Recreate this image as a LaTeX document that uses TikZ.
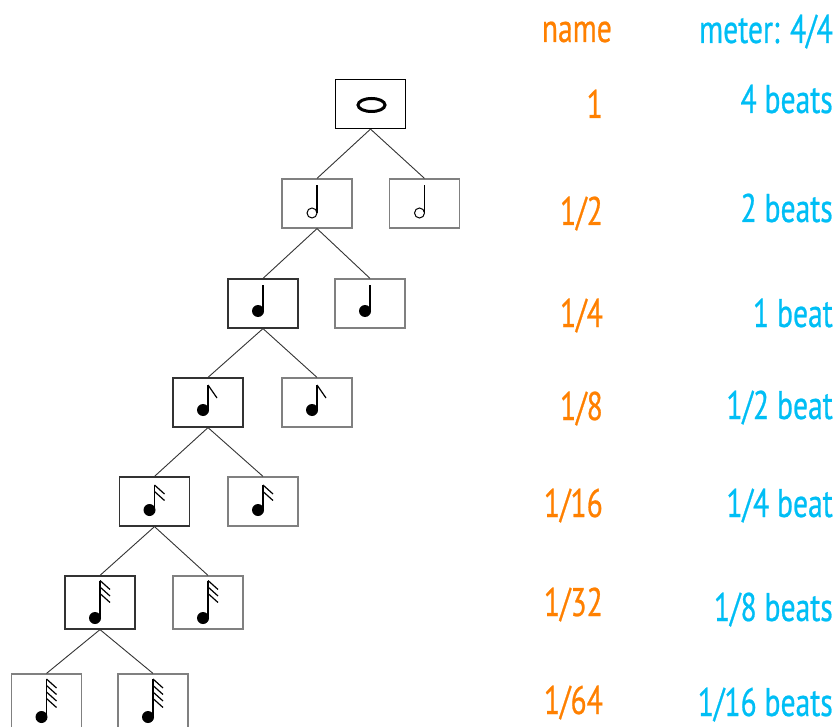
\documentclass[tikz,border=0pt]{standalone}
\usepackage{fontspec}
\setmainfont{PT Sans}[FakeStretch=0.74, FakeBold=0.6]
\usepackage{tikz}
\usetikzlibrary{positioning}
\definecolor{namecol}{RGB}{255,128,0}
\definecolor{beatcol}{RGB}{0,190,245}
\tikzset{
  notebox/.style={draw=black!80, line width=1.2pt, minimum width=70pt, minimum height=49pt, inner sep=0pt},
  faintbox/.style={notebox, draw=black!50},
  branch/.style={draw=black!80, line width=0.9pt},
  stem/.style={line width=1.5pt},
  flag/.style={line width=1.2pt},
  namelabel/.style={text=namecol, anchor=base east, inner sep=0pt, font=\fontsize{40}{44}\selectfont},
  beatlabel/.style={namelabel, text=beatcol},
}
% filled note: box, stem top, head drop, flags
\newcommand{\fillnote}[4]{%
  \begin{scope}[shift={(#1.center)}]
    \fill (-5,#3) circle (6);
    \draw[stem] (0,#3) -- (0,#2);
    \ifnum#4=1 \draw[flag] (0,#2) -- ++(9,13); \fi
    \ifnum#4>1 \foreach \f in {1,...,#4} \draw[flag] (0,#2+6.5*\f-6.5) -- ++(10,9); \fi
  \end{scope}}
\newcommand{\opennote}[1]{%
  \begin{scope}[shift={(#1.center)}]
    \draw[line width=1pt] (-5,9.5) circle (5);
    \draw[line width=1.2pt] (0,9.5) -- (0,-18.5);
  \end{scope}}

\begin{document}
\begin{tikzpicture}[x=1pt,y=-1pt]
    \clip (0,0) rectangle (840,727);

    \node[notebox, draw=black] (root) at (370.5,104) {};
    \node[faintbox] (half1) at (317,203.5) {};
    \node[faintbox] (half2) at (424.5,203.5) {};
    \node[notebox] (qtr1) at (263,303.5) {};
    \node[faintbox] (qtr2) at (370,303.5) {};
    \node[notebox] (eighth1) at (208,402.5) {};
    \node[faintbox] (eighth2) at (317,402.5) {};
    \node[notebox] (sixt1) at (154.5,501.5) {};
    \node[faintbox] (sixt2) at (263,501.5) {};
    \node[notebox, minimum height=53pt] (thirty1) at (100,602.5) {};
    \node[faintbox, minimum height=53pt] (thirty2) at (208,602.5) {};
    \node[faintbox, minimum height=60pt] (sixty1) at (46.5,704) {};
    \node[faintbox, minimum height=60pt] (sixty2) at (153,704) {};

    % the notes
    \draw[line width=3pt] (root.center) ++(1,1) ellipse (13.5 and 6.5);
    \opennote{half1}
    \opennote{half2}
    \fillnote{qtr1}{-18.5}{7.5}{0}
    \fillnote{qtr2}{-18.5}{7.5}{0}
    \fillnote{eighth1}{-17.5}{7.5}{1}
    \fillnote{eighth2}{-17.5}{7.5}{1}
    \fillnote{sixt1}{-16.5}{8.5}{2}
    \fillnote{sixt2}{-16.5}{8.5}{2}
    \fillnote{thirty1}{-22}{15.5}{3}
    \fillnote{thirty2}{-22}{15.5}{3}
    \fillnote{sixty1}{-25}{13}{4}
    \fillnote{sixty2}{-25}{13}{4}

    \draw[branch] (root.south) -- (half1.north);
    \draw[branch] (root.south) -- (half2.north);
    \draw[branch] (half1.south) -- (qtr1.north);
    \draw[branch] (half1.south) -- (qtr2.north);
    \draw[branch] (qtr1.south) -- (eighth1.north);
    \draw[branch] (qtr1.south) -- (eighth2.north);
    \draw[branch] (eighth1.south) -- (sixt1.north);
    \draw[branch] (eighth1.south) -- (sixt2.north);
    \draw[branch] (sixt1.south) -- (thirty1.north);
    \draw[branch] (sixt1.south) -- (thirty2.north);
    \draw[branch] (thirty1.south) -- (sixty1.north);
    \draw[branch] (thirty1.south) -- (sixty2.north);

    % labels
    \node[namelabel] (namehead) at (612,42) {name};
    \node[namelabel] (name0) at (603,118) {1};
    \node[namelabel] (name1) at (603,225) {1/2};
    \node[namelabel] (name2) at (603,327) {1/4};
    \node[namelabel] (name3) at (603,420) {1/8};
    \node[namelabel] (name4) at (603,517) {1/16};
    \node[namelabel] (name5) at (603,616) {1/32};
    \node[namelabel] (name6) at (603,714) {1/64};

    \node[beatlabel] (meterhead) at (833,43) {meter: 4/4};
    \node[beatlabel] (beat0) at (833,113) {4 beats};
    \node[beatlabel] (beat1) at (833,222) {2 beats};
    \node[beatlabel] (beat2) at (833,327) {1 beat};
    \node[beatlabel] (beat3) at (833,419) {1/2 beat};
    \node[beatlabel] (beat4) at (833,517) {1/4 beat};
    \node[beatlabel] (beat5) at (833,621) {1/8 beats};
    \node[beatlabel] (beat6) at (833,716) {1/16 beats};
\end{tikzpicture}
\end{document}
